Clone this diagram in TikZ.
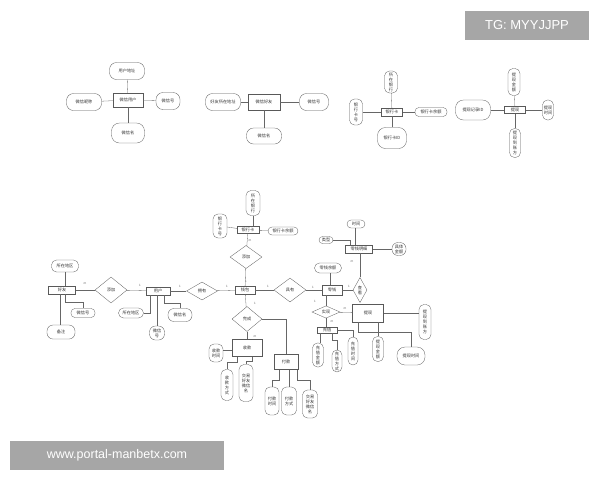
\documentclass[tikz,border=0pt]{standalone}
\usepackage{fontspec}
\setmainfont{Noto Sans CJK SC}
\newfontfamily\wmfont{Liberation Sans}
\usetikzlibrary{shapes.geometric}
\tikzset{
  base/.style={draw=black!65, line width=0.3pt, inner sep=0pt, align=center, text=black!80,
     font=\fontsize{4.2}{5}\selectfont},
  ent/.style={base, rectangle},
  attr/.style={base, rectangle, rounded corners=5pt},
  rel/.style={base, diamond},
  ln/.style={draw=black!60, line width=0.3pt},
  card/.style={font=\fontsize{3}{3}\selectfont, text=black!60, inner sep=0pt},
  wm/.style={fill=black!35, text=white, inner sep=0pt, font=\wmfont}
}
\begin{document}
\begin{tikzpicture}[x=1pt,y=-1pt]
\useasboundingbox (0,0) rectangle (600,480);
\fill[white] (0,0) rectangle (600,480);

% ---------- group 1 ----------
\node[ent, minimum width=30, minimum height=14] (u1) at (128,100) {微信用户};
\node[attr, minimum width=35, minimum height=17, rounded corners=7pt] (u1a) at (127,71) {用户地址};
\node[attr, minimum width=35, minimum height=17, rounded corners=7pt] (u1b) at (84,102) {微信昵称};
\node[attr, minimum width=24, minimum height=17, rounded corners=7pt] (u1c) at (168,101) {微信号};
\node[attr, minimum width=33, minimum height=20, rounded corners=8pt] (u1d) at (128,133) {微信名};
\draw[ln] (u1a) -- (u1); \draw[ln] (u1b) -- (u1); \draw[ln] (u1c) -- (u1); \draw[ln] (u1d) -- (u1);

% ---------- group 2 ----------
\node[ent, minimum width=32, minimum height=16] (f1) at (264,102) {微信好友};
\node[attr, minimum width=35, minimum height=17, rounded corners=7pt] (f1a) at (223,102) {好友所在地址};
\node[attr, minimum width=29, minimum height=17, rounded corners=7pt] (f1b) at (314,102) {微信号};
\node[attr, minimum width=35, minimum height=16, rounded corners=7pt] (f1c) at (264,136) {微信名};
\draw[ln] (f1a) -- (f1); \draw[ln] (f1b) -- (f1); \draw[ln] (f1c) -- (f1);

% ---------- group 3 ----------
\node[ent, minimum width=21, minimum height=8] (b1) at (392,112) {银行卡};
\node[attr, minimum width=13, minimum height=22] (b1a) at (391,82) {所\\在\\银\\行};
\node[attr, minimum width=13, minimum height=26] (b1b) at (356,112) {银\\行\\卡\\号};
\node[attr, minimum width=32, minimum height=9, rounded corners=4pt] (b1c) at (431,112) {银行卡余额};
\node[attr, minimum width=29, minimum height=21, rounded corners=8pt] (b1d) at (392,138) {银行卡ID};
\draw[ln] (b1a) -- (b1); \draw[ln] (b1b) -- (b1); \draw[ln] (b1c) -- (b1); \draw[ln] (b1d) -- (b1);

% ---------- group 4 ----------
\node[ent, minimum width=21, minimum height=7] (t1) at (515,110) {提现};
\node[attr, minimum width=12, minimum height=27] (t1a) at (514,82) {提\\现\\金\\额};
\node[attr, minimum width=35, minimum height=20, rounded corners=8pt] (t1b) at (473,110) {提现记录ID};
\node[attr, minimum width=11, minimum height=20] (t1c) at (548,110) {提现\\时间};
\node[attr, minimum width=11, minimum height=29] (t1d) at (515,143) {提\\现\\到\\账\\方};
\draw[ln] (t1a) -- (t1); \draw[ln] (t1b) -- (t1); \draw[ln] (t1c) -- (t1); \draw[ln] (t1d) -- (t1);

% ---------- main diagram ----------
\node[ent, minimum width=27, minimum height=8] (hy) at (62,290) {好友};
\node[attr, minimum width=27, minimum height=12] (hya) at (65,266) {所在地区};
\node[attr, minimum width=24, minimum height=9, rounded corners=4pt] (hyb) at (83,313) {微信号};
\node[attr, minimum width=28, minimum height=14, rounded corners=6pt] (hyc) at (61,332) {备注};
\node[rel, minimum width=32, minimum height=26] (r1) at (111,290) {添加};
\node[ent, minimum width=24, minimum height=8] (yh) at (158,291) {用户};
\node[attr, minimum width=25, minimum height=10] (yha) at (131,313) {所在地区};
\node[attr, minimum width=15, minimum height=14, rounded corners=6pt] (yhb) at (157,333) {微信\\号};
\node[attr, minimum width=24, minimum height=13, rounded corners=6pt] (yhc) at (180,315) {微信名};
\node[rel, minimum width=31, minimum height=18] (r2) at (202,291) {拥有};
\node[ent, minimum width=20, minimum height=8] (qb) at (245,290) {钱包};
\node[rel, minimum width=32, minimum height=23] (r3) at (246,257) {添加};
\node[ent, minimum width=22, minimum height=7] (yk) at (248,230) {银行卡};
\node[attr, minimum width=14, minimum height=25] (yka) at (253,203) {所\\在\\银\\行};
\node[attr, minimum width=14, minimum height=24] (ykb) at (220,226) {银\\行\\卡\\号};
\node[attr, minimum width=30, minimum height=8, rounded corners=4pt] (ykc) at (283,231) {银行卡余额};
\node[rel, minimum width=32, minimum height=24] (r4) at (290,290) {具有};
\node[rel, minimum width=30, minimum height=25] (r5) at (247,319) {完成};
\node[ent, minimum width=30, minimum height=17] (sk) at (247,348) {收款};
\node[attr, minimum width=14, minimum height=18] (ska) at (216,353) {收款\\时间};
\node[attr, minimum width=12, minimum height=31] (skb) at (227,385) {收\\款\\方\\式};
\node[attr, minimum width=14, minimum height=37] (skc) at (246,383) {交易\\好友\\微信\\名};
\node[ent, minimum width=24, minimum height=15] (fk) at (286,362) {付款};
\node[attr, minimum width=14, minimum height=28] (fka) at (272,401) {付款\\时间};
\node[attr, minimum width=15, minimum height=28] (fkb) at (289,401) {付款\\方式};
\node[attr, minimum width=15, minimum height=28] (fkc) at (310,404) {交易\\好友\\微信\\名};
\node[ent, minimum width=20, minimum height=10] (lq) at (332,290) {零钱};
\node[attr, minimum width=27, minimum height=10] (lqa) at (328,268) {零钱余额};
\node[rel, minimum width=14, minimum height=25] (r6) at (360,290) {查\\看};
\node[ent, minimum width=27, minimum height=8] (mx) at (359,249) {零钱明细};
\node[attr, minimum width=18, minimum height=8, rounded corners=4pt] (mxa) at (356,224) {时间};
\node[attr, minimum width=14, minimum height=7, rounded corners=3.5pt] (mxb) at (326,240) {类型};
\node[attr, minimum width=14, minimum height=13, rounded corners=6pt] (mxc) at (399,249) {具体\\金额};
\node[rel, minimum width=28, minimum height=11] (r7) at (326,312) {实现};
\node[ent, minimum width=20, minimum height=6] (cz) at (327,330) {充值};
\node[attr, minimum width=11, minimum height=24] (cza) at (318,355) {充\\值\\金\\额};
\node[attr, minimum width=10, minimum height=22] (czb) at (337,361) {充\\值\\方\\式};
\node[attr, minimum width=10, minimum height=28] (czc) at (353,351) {充\\值\\时\\间};
\node[ent, minimum width=31, minimum height=18] (tx) at (368,313) {提现};
\node[attr, minimum width=11, minimum height=25] (txa) at (378,349) {提\\现\\金\\额};
\node[attr, minimum width=28, minimum height=18, rounded corners=8pt] (txb) at (411,356) {提现时间};
\node[attr, minimum width=12, minimum height=35] (txc) at (425,322) {提\\现\\到\\账\\方};

% connectors
\draw[ln] (hy) -- (r1); \draw[ln] (r1) -- (yh);
\draw[ln] (hya.south) -- (hya.south |- hy.north);
\draw[ln] (hy.south -| 65,0) |- (83,302) -- (hyb.north);
\draw[ln] (hy.south -| 60,0) -- (hyc.north -| 60,0);
\draw[ln] (yh) -- (r2); \draw[ln] (r2) -- (qb);
\draw[ln] (yh.south -| 150,0) |- (yha.east);
\draw[ln] (yh.south -| 157,0) -- (yhb.north);
\draw[ln] (yh.south -| 164,0) |- (180,303) -- (yhc.north);
\draw[ln] (qb) -- (r3); \draw[ln] (r3) -- (yk);
\draw[ln] (yk) -- (ykb); \draw[ln] (yk) -- (ykc);
\draw[ln] (yka.south) -- (yka.south |- yk.north);
\draw[ln] (qb) -- (r4); \draw[ln] (r4) -- (lq);
\draw[ln] (qb) -- (r5); \draw[ln] (r5) -- (sk);
\draw[ln] (r5.east) -| (fk.north);
\draw[ln] (sk.west |- 0,350) -- (ska.east |- 0,350);
\draw[ln] (sk.south -| 237,0) |- (227,362) -- (skb.north);
\draw[ln] (sk.south -| 252,0) |- (246,361) -- (skc.north);
\draw[ln] (fk.south -| 279,0) |- (272,380) -- (fka.north);
\draw[ln] (fk.south -| 289,0) -- (fkb.north);
\draw[ln] (fk.south -| 297,0) |- (310,380) -- (fkc.north);
\draw[ln] (lqa.south -| 330,0) -- (lq.north -| 330,0);
\draw[ln] (lq) -- (r6); \draw[ln] (r6) -- (r6 |- mx.south);
\draw[ln] (mxa.south -| 355,0) -- (mx.north -| 355,0);
\draw[ln] (mxb.east) -| (350,0 |- mx.north);
\draw[ln] (mx) -- (mxc);
\draw[ln] (lq.south -| 326,0) -- (r7.north);
\draw[ln] (r7) -- (tx);
\draw[ln] (r7.south) -- (cz.north -| r7.south);
\draw[ln] (cz.south -| 320,0) -- (cza.north -| 320,0);
\draw[ln] (cz.south -| 332,0) |- (337,340) -- (czb.north);
\draw[ln] (cz.east) -| (czc.north);
\draw[ln] (tx.south -| 378,0) -- (txa.north);
\draw[ln] (tx.south -| 358,0) |- (411,332) -- (txb.north);
\draw[ln] (tx.east) -- (tx.east -| txc.west);

% cardinalities
\node[card] (c1) at (85,284) {m};
\node[card] (c2) at (140,285) {1};
\node[card] (c3) at (180,286) {1};
\node[card] (c4) at (227,286) {1};
\node[card] (c5) at (250,241) {m};
\node[card] (c6) at (246,281) {1};
\node[card] (c7) at (268,286) {1};
\node[card] (c8) at (313,287) {1};
\node[card] (c9) at (255,303) {1};
\node[card] (c10) at (255,337) {m};
\node[card] (c11) at (352,262) {m};
\node[card] (c12) at (349,286) {1};
\node[card] (c13) at (315,301) {1};
\node[card] (c14) at (345,309) {m};
\node[card] (c15) at (332,322) {m};

% watermarks
\node[wm, minimum width=124, minimum height=29, font=\wmfont\fontsize{13}{13}\selectfont] (w1) at (527,25) {TG: MYYJJPP};
\node[wm, minimum width=214, minimum height=29, font=\wmfont\fontsize{12.5}{13}\selectfont] (w2) at (117,455) {www.portal-manbetx.com};
\end{tikzpicture}
\end{document}
